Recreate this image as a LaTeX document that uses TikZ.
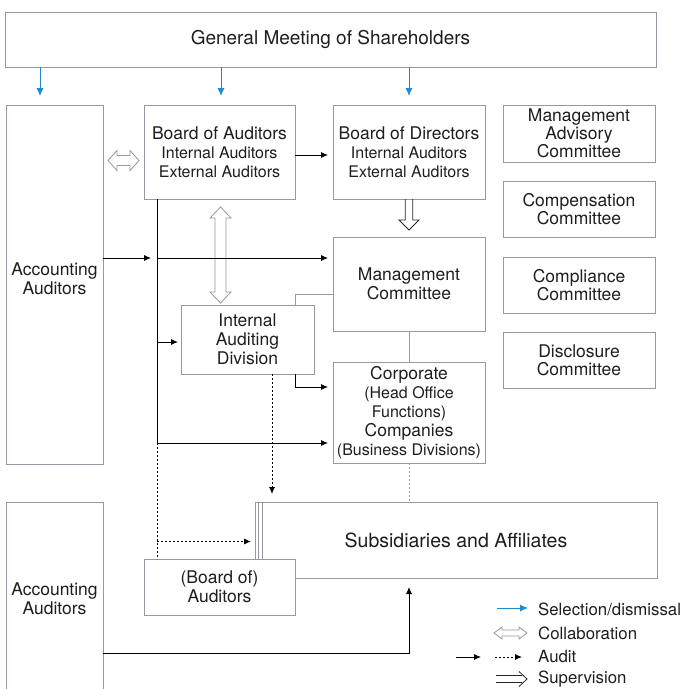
\documentclass[tikz,border=0pt]{standalone}
\usepackage{fontspec}
\setmainfont{TeX Gyre Heros}
\usetikzlibrary{arrows.meta,calc}
\definecolor{boxgray}{RGB}{150,152,168}
\definecolor{selblue}{RGB}{30,140,210}
\definecolor{txt}{RGB}{30,30,32}
\newcommand{\mainsz}{\fontsize{17.5}{19}\selectfont}
\newcommand{\subsz}{\fontsize{16}{19}\selectfont}
\newcommand{\comsz}{\fontsize{17.5}{18}\selectfont}
\begin{document}
\begin{tikzpicture}[x=1pt,y=-1pt,
  box/.style={draw=boxgray, line width=0.9pt, fill=white, align=center, inner sep=0pt, outer sep=0pt, anchor=north west, font=\mainsz, text=txt},
  com/.style={box, font=\comsz, minimum width=152, minimum height=56},
  audit/.style={draw=black, line width=0.9pt, -{Latex[length=7pt,width=6pt]}},
  auditline/.style={draw=black, line width=0.9pt},
  dotaudit/.style={audit, dash pattern=on 2pt off 2pt},
  dotline/.style={auditline, dash pattern=on 2pt off 2pt},
  sel/.style={draw=selblue, line width=0.9pt, -{Latex[length=8pt,width=7pt]}},
  link/.style={draw=boxgray, line width=0.9pt},
  hollow/.style={draw=boxgray, line width=0.8pt, fill=white, line join=miter},
  superv/.style={draw=black!85, line width=0.8pt, line join=miter},
  legend/.style={anchor=west, inner sep=0pt, font=\fontsize{16.8}{19}\selectfont, text=txt}]
\useasboundingbox (0,0) rectangle (681,689);
\clip (0,0) rectangle (681,689);

% boxes
\node[box, minimum width=651, minimum height=55] (gms) at (5,12) {\fontsize{19}{19}\selectfont General Meeting of Shareholders};
\node[box, minimum width=97, minimum height=359] (aa1) at (6,105) {Accounting\\Auditors\\[-8pt]};
\node[box, minimum width=151, minimum height=94] (boa) at (144,105) {Board of Auditors\\{\subsz Internal Auditors}\\{\subsz External Auditors}};
\node[box, minimum width=152, minimum height=94] (bod) at (333,105) {Board of Directors\\{\subsz Internal Auditors}\\{\subsz External Auditors}};
\node[com, minimum height=57] (mac) at (503,105) {Management\\Advisory\\Committee};
\node[com] (cpc) at (503,181) {Compensation\\Committee};
\node[com] (clc) at (503,257) {Compliance\\Committee};
\node[com] (dsc) at (503,332) {Disclosure\\Committee};
\node[box, minimum width=152, minimum height=94] (mc) at (333,237) {Management\\Committee};
\node[box, minimum width=133, minimum height=69] (iad) at (181,305) {Internal\\Auditing\\Division};
\node[box, minimum width=152, minimum height=101] (corp) at (333,362) {Corporate\\{\subsz (Head Office}\\{\subsz Functions)}\\Companies\\{\subsz (Business Divisions)}};
\node[box, minimum width=402, minimum height=76] (sub) at (255,502) {\fontsize{19.5}{19}\selectfont Subsidiaries and Affiliates};
\draw[link] ($(sub.north west)+(3.5,0)$) -- ($(sub.south west)+(3.5,0)$);
\draw[link] ($(sub.north west)+(7,0)$) -- ($(sub.south west)+(7,0)$);
\node[box, minimum width=151, minimum height=56] (boa2) at (144,559) {(Board of)\\Auditors};
\node[box, minimum width=97, minimum height=193] (aa2) at (6,502) {Accounting\\Auditors};

% selection / dismissal
\draw[sel] ($(gms.south west)+(35,0)$) -- ++(0,29);
\draw[sel] ($(gms.south -| boa.north)+(1.5,0)$) -- ++(0,29);
\draw[sel] (gms.south -| bod.north) -- ++(0,29);

% collaboration
\coordinate (c1) at ($(aa1.north east)+(5,55.5)$);
\draw[hollow, shift={(c1)}] (0,0) -- (9,-10) -- (9,-5) -- (22,-5) -- (22,-10) -- (31,0) -- (22,10) -- (22,5) -- (9,5) -- (9,10) -- cycle;
\coordinate (c2) at ($(boa.south)+(1,8)$);
\draw[hollow, shift={(c2)}] (0,0) -- (10.5,11) -- (5.5,11) -- (5.5,85) -- (10.5,85) -- (0,96) -- (-10.5,85) -- (-5.5,85) -- (-5.5,11) -- (-10.5,11) -- cycle;

% supervision
\coordinate (s1) at (bod.south);
\draw[superv, shift={(s1)}] (-3.7,0) -- (-3.7,21) -- (-10,21) -- (0,31) -- (10,21) -- (3.7,21) -- (3.7,0);

% audit
\draw[audit, shorten >=5pt] ($(boa.east)+(0,3)$) -- ($(bod.west)+(0,3)$);
\coordinate (spt) at ($(boa.south west)+(13,0)$);
\coordinate (j1) at (157,258);
\coordinate (j2) at (157,342);
\coordinate (spb) at (157,443);
\coordinate (j3) at (157,541.5);
\draw[auditline] (spt) -- (spb);
\draw[audit, shorten >=6pt] (aa1.east |- j1) -- (j1);
\draw[audit, shorten >=5pt] (j1) -- (mc.west |- j1);
\draw[audit, shorten >=3pt] (j2) -- (iad.west |- j2);
\draw[audit, shorten >=5pt] (spb) -- (corp.west |- spb);
\draw[dotline] (spb) -- (boa2.north -| spb);
\draw[dotaudit, shorten >=4pt] (j3) -- (sub.west |- j3);
\coordinate (i1) at (295,374);
\coordinate (i2) at (333,387);
\draw[audit, shorten >=5pt] (i1) |- (i2);
\coordinate (i3) at (272,374);
\draw[dotaudit, shorten >=8pt] (i3) -- (sub.north -| i3);
\coordinate (b1) at (103,653);
\draw[audit, shorten >=9pt] (b1) -| (sub.south -| corp.south);

% links
\coordinate (m1) at (333,294);
\draw[link] (m1) -| (iad.north -| i1);
\draw[link] (mc.south) -- (corp.north);
\draw[link, dash pattern=on 2pt off 2pt] (corp.south) -- (sub.north -| corp.south);

% legend
\node[legend] (l1) at (538,609) {Selection/dismissal};
\node[legend] (l2) at (538,633) {Collaboration};
\node[legend] (l3) at (538,656) {Audit};
\node[legend] (l4) at (538,679) {Supervision};
\draw[sel] ($(l1.west)+(-41,-1)$) -- ($(l1.west)+(-10,-1)$);
\coordinate (c3) at ($(l2.west)+(-44,0)$);
\draw[hollow, shift={(c3)}] (0,0) -- (8,-6) -- (8,-3) -- (25,-3) -- (25,-6) -- (33,0) -- (25,6) -- (25,3) -- (8,3) -- (8,6) -- cycle;
\draw[audit] ($(l3.west)+(-82,1)$) -- ($(l3.west)+(-57,1)$);
\draw[dotaudit] ($(l3.west)+(-43,1)$) -- ($(l3.west)+(-16,1)$);
\coordinate (c4) at ($(l4.west)+(-42,0)$);
\draw[superv] ($(c4)+(0,-3.5)$) -- ++(26,0);
\draw[superv] ($(c4)+(0,3.5)$) -- ++(26,0);
\draw[superv] ($(c4)+(23,-7.5)$) -- ($(c4)+(31,0)$) -- ($(c4)+(23,7.5)$);
\end{tikzpicture}
\end{document}
